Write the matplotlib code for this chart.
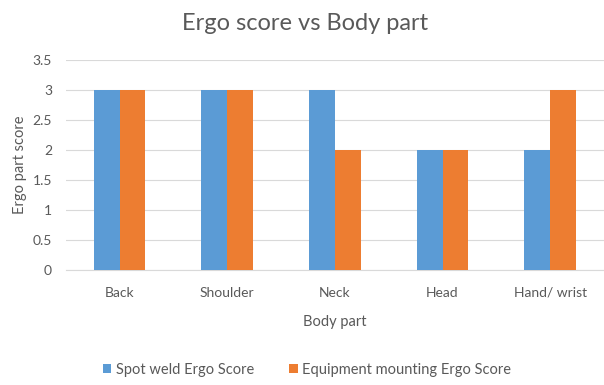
import numpy as np
import matplotlib.pyplot as plt

body_parts = ['Back', 'Shoulder', 'Neck', 'Head', 'Hand/ wrist']
spot_weld = [3, 3, 3, 2, 2]
equipment = [3, 3, 2, 2, 3]
yticks = [0, 0.5, 1, 1.5, 2, 2.5, 3, 3.5]
ytick_labels = ['0', '0.5', '1', '1.5', '2', '2.5', '3', '3.5']

plt.rcParams['font.family'] = ['Lato', 'DejaVu Sans']
txt = '#595959'

fig = plt.figure(figsize=(6.04, 3.85), dpi=100)
ax = fig.add_axes([0.109, 0.299, 0.891, 0.545])

x = np.arange(len(body_parts))
w = 0.24
ax.bar(x - w / 2, spot_weld, w, color='#5B9BD5', label='Spot weld Ergo Score', zorder=3)
ax.bar(x + w / 2, equipment, w, color='#ED7D31', label='Equipment mounting Ergo Score', zorder=3)

ax.set_xlim(-0.5, len(body_parts) - 0.5)
ax.set_ylim(0, 3.5)
ax.set_yticks(yticks)
ax.set_yticklabels(ytick_labels)
ax.set_xticks(x)
ax.set_xticklabels(body_parts)
ax.yaxis.grid(True, color='#D9D9D9', linewidth=0.8, zorder=0)
for s in ['top', 'right', 'left']:
    ax.spines[s].set_visible(False)
ax.spines['bottom'].set_color('#D9D9D9')
ax.tick_params(axis='both', length=0, colors=txt, labelsize=10)
ax.tick_params(axis='y', pad=10)
ax.tick_params(axis='x', pad=12)

ax.set_xlabel('Body part', color=txt, fontsize=10.5, labelpad=12)
ax.set_ylabel('Ergo part score', color=txt, fontsize=10.5, labelpad=4)
fig.text(0.505, 0.94, 'Ergo score vs Body part', ha='center', va='center', color=txt, fontsize=17)

fig.legend(loc='center', bbox_to_anchor=(0.508, 0.039), ncol=2, frameon=False,
           fontsize=10.5, labelcolor=txt, handlelength=0.6, handleheight=0.6,
           handletextpad=0.3, columnspacing=2.4)

fig.savefig('out.png', dpi=100)
